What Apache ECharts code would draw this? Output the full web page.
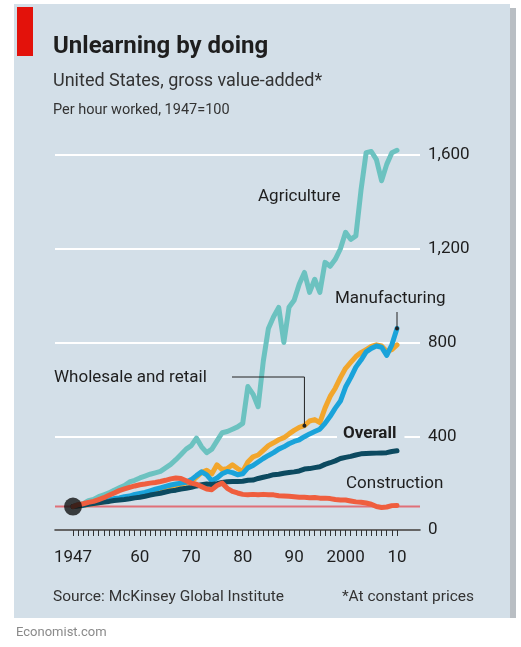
<!DOCTYPE html>
<html><head><meta charset="utf-8">
<script src="https://cdn.jsdelivr.net/npm/echarts@6/dist/echarts.min.js"></script>
<style>html,body{margin:0;padding:0;background:#fff;} #c{width:521px;height:647px;}</style>
</head><body><div id="c"></div>
<script>
const years = [1947,1948,1949,1950,1951,1952,1953,1954,1955,1956,1957,1958,1959,1960,1961,1962,1963,1964,1965,1966,1967,1968,1969,1970,1971,1972,1973,1974,1975,1976,1977,1978,1979,1980,1981,1982,1983,1984,1985,1986,1987,1988,1989,1990,1991,1992,1993,1994,1995,1996,1997,1998,1999,2000,2001,2002,2003,2004,2005,2006,2007,2008,2009,2010];
const agriculture = [100,108,112,125,130,142,150,158,170,180,190,205,212,222,230,238,244,250,265,280,300,322,345,360,392,355,330,345,380,415,420,430,440,455,612,580,526,720,860,910,950,800,950,980,1050,1099,1014,1070,1014,1142,1125,1155,1200,1270,1240,1255,1450,1610,1615,1580,1490,1560,1610,1620];
const manufacturing = [100,103,105,112,116,120,125,128,134,137,142,145,152,156,160,167,174,180,186,192,196,200,204,215,232,248,235,210,222,240,250,245,236,240,265,275,290,305,318,330,345,355,368,378,385,398,410,420,430,455,485,520,550,610,650,695,725,760,775,785,780,745,790,860];
const wholesale = [100,102,104,110,112,116,120,123,130,132,136,138,145,148,152,160,166,172,180,185,190,196,200,205,225,245,255,240,278,258,262,278,262,250,290,312,320,340,360,372,385,394,410,425,438,445,465,471,458,520,570,605,650,690,715,740,757,770,783,790,785,762,770,790];
const overall = [100,103,106,110,113,116,119,122,126,128,130,133,137,140,144,149,153,157,162,167,170,175,178,182,188,193,196,194,198,203,206,207,207,208,212,213,220,225,230,236,238,242,245,248,252,260,262,266,270,280,287,295,305,310,314,320,325,326,327,328,329,330,335,338];
const construction = [100,108,112,118,122,130,138,148,158,168,175,182,188,193,196,200,203,207,212,218,222,220,210,200,195,185,175,172,190,200,178,165,158,152,150,152,150,152,150,150,146,145,144,142,140,140,138,139,136,136,134,130,128,128,124,120,118,115,110,100,96,98,104,105];
const xTickLabels = {1947:'1947',1960:'60',1970:'70',1980:'80',1990:'90',2000:'2000',2010:'10'};
const yTicks = [0,400,800,1200,1600];
const baseValue = 100;

const FONT = 'Roboto, "Noto Sans", sans-serif';
const PANEL = '#d3dfe8';
const TXT = '#1e1e1e';
const chart = echarts.init(document.getElementById('c'));
const pair = arr => years.map((y, i) => [y, arr[i]]);

function lineSeries(name, data, color, z) {
  return {
    name, type: 'line', xAxisIndex: 1, yAxisIndex: 1, data: pair(data),
    symbol: 'none', clip: false, z,
    lineStyle: { color, width: 5, cap: 'round', join: 'round' }
  };
}

const option = {
  backgroundColor: '#fff',
  animation: false,
  grid: [
    { left: 55, right: 101, top: 155, bottom: 117 },
    { left: 73, right: 124, top: 155, bottom: 117 }
  ],
  xAxis: [
    { gridIndex: 0, type: 'value', min: 0, max: 1, z: 5,
      axisLine: { show: true, lineStyle: { color: '#333', width: 1.5 } },
      axisTick: { show: false }, axisLabel: { show: false }, splitLine: { show: false } },
    { gridIndex: 1, type: 'value', min: years[0], max: years[years.length - 1], interval: 1,
      axisLine: { show: false },
      axisTick: { show: true, length: 6, lineStyle: { color: '#333', width: 1 } },
      axisLabel: { show: true, margin: 19, color: TXT, fontSize: 17, fontFamily: FONT,
        showMinLabel: true, showMaxLabel: true,
        formatter: v => xTickLabels[v] || '' },
      splitLine: { show: false } }
  ],
  yAxis: [
    { gridIndex: 0, type: 'value', position: 'right', min: yTicks[0], max: yTicks[yTicks.length - 1], interval: 400,
      axisLine: { show: false }, axisTick: { show: false },
      axisLabel: { margin: 8, color: TXT, fontSize: 17, fontFamily: FONT,
        formatter: v => v.toLocaleString('en-US') },
      splitLine: { show: true, lineStyle: { color: '#ffffff', width: 2 } } },
    { gridIndex: 1, type: 'value', min: yTicks[0], max: yTicks[yTicks.length - 1], show: false,
      splitLine: { show: false } }
  ],
  series: [
    { name: 'base', type: 'line', xAxisIndex: 0, yAxisIndex: 0, data: [[0, baseValue], [1, baseValue]],
      symbol: 'none', z: 1, lineStyle: { color: '#e07078', width: 2 } },
    lineSeries('Agriculture', agriculture, '#6cc2c0', 2),
    lineSeries('Wholesale and retail', wholesale, '#f2a62c', 3),
    lineSeries('Manufacturing', manufacturing, '#1aa3da', 4),
    lineSeries('Overall', overall, '#0c4a60', 5),
    lineSeries('Construction', construction, '#ef5e3e', 6),
    { name: 'start', type: 'scatter', xAxisIndex: 1, yAxisIndex: 1, data: [[years[0], baseValue]],
      symbolSize: 18, z: 10, itemStyle: { color: '#111' } }
  ]
};
chart.setOption(option);

const px = (y, v) => chart.convertToPixel({ xAxisIndex: 1, yAxisIndex: 1 }, [y, v]);
const mEnd = px(2010, manufacturing[years.indexOf(2010)]);
const wPt = px(1992, wholesale[years.indexOf(1992)]);

const txt = (x, y, text, size, opts = {}) => Object.assign({
  type: 'text', x, y, z: 20,
  style: Object.assign({ text, fill: TXT, font: `${opts.weight || 'normal'} ${size}px ${FONT}`,
    textVerticalAlign: 'middle', textAlign: opts.align || 'left' }, opts.style || {})
}, opts.el || {});

chart.setOption({
  graphic: [
    { type: 'rect', z: -100, shape: { x: 14, y: 4, width: 496, height: 614 }, style: { fill: PANEL } },
    { type: 'rect', z: -100, shape: { x: 510, y: 8, width: 6, height: 610 }, style: { fill: '#b9bec3' } },
    { type: 'rect', z: 20, shape: { x: 17, y: 7, width: 16, height: 49 }, style: { fill: '#e3120b' } },
    txt(53, 47, 'Unlearning by doing', 24, { weight: 'bold' }),
    txt(53, 81, 'United States, gross value-added*', 18, { style: { fill: '#333' } }),
    txt(53, 110, 'Per hour worked, 1947=100', 14.5, { style: { fill: '#333' } }),
    txt(258, 197, 'Agriculture', 17),
    txt(335, 299, 'Manufacturing', 17),
    txt(54, 378, 'Wholesale and retail', 17),
    txt(337, 434, 'Overall', 17, { weight: 'bold', style: { backgroundColor: PANEL, padding: [2, 8, 2, 6] } }),
    txt(346, 484, 'Construction', 17),
    txt(53, 597, 'Source: McKinsey Global Institute', 15.5, { style: { fill: '#333' } }),
    txt(474, 597, '*At constant prices', 15.5, { align: 'right', style: { fill: '#333' } }),
    txt(16, 633, 'Economist.com', 13, { style: { fill: '#8a8a8a' } }),
    { type: 'line', z: 15, shape: { x1: mEnd[0], y1: 312, x2: mEnd[0], y2: mEnd[1] }, style: { stroke: '#222', lineWidth: 1 } },
    { type: 'circle', z: 16, shape: { cx: mEnd[0], cy: mEnd[1], r: 2 }, style: { fill: '#222' } },
    { type: 'polyline', z: 15, shape: { points: [[232, 377], [wPt[0], 377], [wPt[0], wPt[1]]] }, style: { stroke: '#222', lineWidth: 1, fill: null } },
    { type: 'circle', z: 16, shape: { cx: wPt[0], cy: wPt[1], r: 2 }, style: { fill: '#222' } }
  ]
});
</script></body></html>
